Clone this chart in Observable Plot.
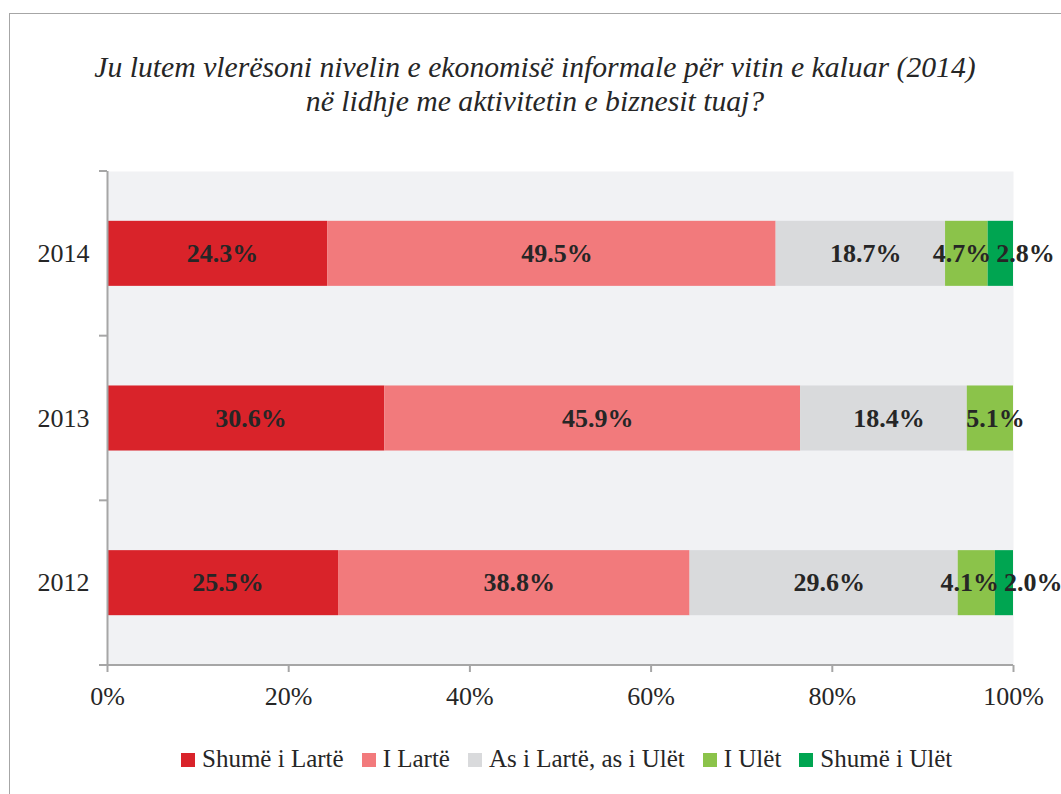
<!DOCTYPE html>
<html><head><meta charset="utf-8">
<script src="https://cdn.jsdelivr.net/npm/d3@7"></script>
<script src="https://cdn.jsdelivr.net/npm/@observablehq/plot@0.6"></script>
<style>
html,body{margin:0;padding:0;background:#fff;}
body{width:1061px;height:794px;overflow:hidden;position:relative;font-family:"Liberation Serif",serif;color:#262626;}
#frame{position:absolute;left:9px;top:13px;width:1200px;height:1000px;border-left:1.5px solid #a6a6a6;border-top:1.5px solid #a6a6a6;}
#title{position:absolute;left:0;width:1070px;top:50px;text-align:center;font-style:italic;font-size:29.7px;line-height:34px;}
#chart{position:absolute;left:0;top:130px;}
#legend{position:absolute;top:744px;left:181px;display:flex;align-items:center;font-size:25px;line-height:30px;white-space:nowrap;}
#legend .item{display:flex;align-items:center;margin-right:18px;}
#legend .sw{width:14px;height:14px;margin-right:7px;position:relative;top:1px;}
</style>
</head><body>
<div id="frame"></div>
<div id="title">Ju lutem vlerësoni nivelin e ekonomisë informale për vitin e kaluar (2014)<br>në lidhje me aktivitetin e biznesit tuaj?</div>
<div id="chart"></div>
<div id="legend"></div>
<script>
const years = ["2014", "2013", "2012"];
const categories = ["Shumë i Lartë", "I Lartë", "As i Lartë, as i Ulët", "I Ulët", "Shumë i Ulët"];
const colors = ["#d9232a", "#f27a7c", "#d9dadc", "#8bc34a", "#00a551"];
const values2014 = [24.3, 49.5, 18.7, 4.7, 2.8];
const values2013 = [30.6, 45.9, 18.4, 5.1, 0];
const values2012 = [25.5, 38.8, 29.6, 4.1, 2.0];
const xTicks = [0, 20, 40, 60, 80, 100];

const valuesByYear = {"2014": values2014, "2013": values2013, "2012": values2012};
const data = [];
for (const yr of years) {
  valuesByYear[yr].forEach((v, i) => { if (v > 0) data.push({year: yr, cat: categories[i], value: v}); });
}

const axisColor = "#a6a6a6";
const textColor = "#262626";

const chart = Plot.plot({
  width: 1061,
  height: 595,
  marginLeft: 107,
  marginRight: 48,
  marginTop: 41,
  marginBottom: 60,
  style: {fontFamily: "Liberation Serif, serif", fontSize: "26px", background: "transparent", overflow: "visible", color: textColor},
  x: {domain: [0, 100], ticks: xTicks},
  y: {domain: years, paddingInner: 0.605, paddingOuter: 0.3025, align: 0.5, round: false},
  color: {domain: categories, range: colors},
  marks: [
    Plot.frame({fill: "#f1f2f4", stroke: null}),
    Plot.barX(data, Plot.stackX({x: "value", y: "year", fill: "cat"})),
    Plot.text(data, Plot.stackX({x: "value", y: "year", z: "cat", text: d => d.value.toFixed(1) + "%", fontWeight: "bold", fontSize: 26, fill: textColor, dx: 5})),
    Plot.ruleX([0], {stroke: axisColor, strokeWidth: 2}),
    Plot.axisX({ticks: xTicks, tickFormat: d => d + "%", tickSize: 7, tickPadding: 14, stroke: axisColor, strokeWidth: 2, fill: textColor, fontSize: 26, label: null}),
    Plot.axisY({tickSize: 0, tickPadding: 18, fill: textColor, fontSize: 26, label: null})
  ]
});
document.getElementById("chart").appendChild(chart);

// Category boundary ticks and bottom axis line, derived from the scales
const ys = chart.scale("y");
const xs = chart.scale("x");
const step = ys.step ?? (ys.range[1] - ys.range[0]) / years.length;
const bw = ys.bandwidth ?? step * (1 - 0.605);
const x0 = xs.apply(0), x1 = xs.apply(100);
const start = ys.apply(years[0]) - (step - bw) / 2;
const g = d3.select(chart).append("g").attr("stroke", axisColor).attr("stroke-width", 2);
for (let i = 0; i <= years.length; i++) {
  const yy = start + i * step;
  g.append("line").attr("x1", x0 - 8).attr("x2", i === years.length ? x1 : x0).attr("y1", yy).attr("y2", yy);
}

// Nudge overlapping segment labels apart (left one by 1/3, right one by 2/3)
const labelTexts = Array.from(chart.querySelectorAll('g[aria-label="text"] text'));
if (labelTexts.length) {
  const items = labelTexts.map(el => {
    const r = el.getBoundingClientRect();
    return {el, x: r.left, w: r.width, cy: Math.round(r.top + r.height / 2), shift: 0};
  });
  const rows = d3.group(items, o => o.cy);
  for (const [, arr] of rows) {
    arr.sort((a, b) => a.x - b.x);
    for (let i = 1; i < arr.length; i++) {
      const prev = arr[i - 1], cur = arr[i];
      const overlap = prev.x + prev.w + prev.shift + 5 - (cur.x + cur.shift);
      if (overlap > 0) {
        prev.shift -= overlap / 3;
        cur.shift += overlap * 2 / 3;
      }
    }
    for (const o of arr) {
      if (o.shift) o.el.setAttribute("transform", `translate(${o.shift},0) ` + (o.el.getAttribute("transform") || ""));
    }
  }
}

// Legend
const legend = document.getElementById("legend");
categories.forEach((c, i) => {
  const it = document.createElement("div"); it.className = "item";
  const sw = document.createElement("div"); sw.className = "sw"; sw.style.background = colors[i];
  const t = document.createElement("span"); t.textContent = c;
  it.appendChild(sw); it.appendChild(t); legend.appendChild(it);
});
</script>
</body></html>
